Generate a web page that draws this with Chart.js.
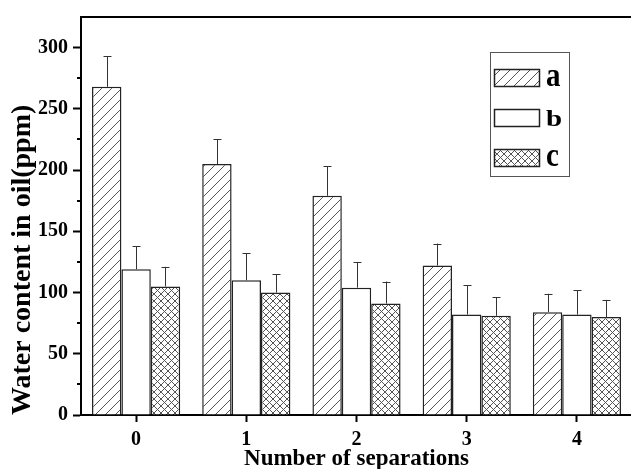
<!DOCTYPE html>
<html>
<head>
<meta charset="utf-8">
<script src="https://cdn.jsdelivr.net/npm/chart.js@4.4.0/dist/chart.umd.min.js"></script>
<style>
  html, body { margin: 0; padding: 0; background: #fff; overflow: hidden; }
  #wrap { width: 640px; height: 469px; }
</style>
</head>
<body>
<div id="wrap"><canvas id="chart" width="640" height="469"></canvas></div>
<script>
const categories = ['0', '1', '2', '3', '4'];
const seriesNames = ['a', 'b', 'c'];
const valuesA = [268, 205, 179, 122, 84];
const valuesB = [119, 110, 104, 82, 82];
const valuesC = [105, 100, 91, 81, 80];
const errorsA = [25, 20, 24, 18, 15];
const errorsB = [19, 22, 21, 24, 20];
const errorsC = [16, 15, 18, 15, 14];
const yTicks = [0, 50, 100, 150, 200, 250, 300];
const yMinorTicks = [25, 75, 125, 175, 225, 275];

const FONT = '"Liberation Serif", "Times New Roman", serif';
const ctx = document.getElementById('chart').getContext('2d');

// fill patterns
function makeHatch() {
    const c = document.createElement('canvas');
    c.width = 10; c.height = 10;
    const g = c.getContext('2d');
    g.fillStyle = '#fff';
    g.fillRect(0, 0, 10, 10);
    g.strokeStyle = '#555';
    g.lineWidth = 1;
    g.beginPath();
    g.moveTo(0, 10); g.lineTo(10, 0);
    g.moveTo(-5, 5); g.lineTo(5, -5);
    g.moveTo(5, 15); g.lineTo(15, 5);
    g.stroke();
    return ctx.createPattern(c, 'repeat');
}

function makeCross() {
    const c = document.createElement('canvas');
    c.width = 7; c.height = 7;
    const g = c.getContext('2d');
    g.fillStyle = '#fff';
    g.fillRect(0, 0, 7, 7);
    g.strokeStyle = '#555';
    g.lineWidth = 1;
    g.beginPath();
    g.moveTo(0, 0); g.lineTo(7, 7);
    g.moveTo(0, 7); g.lineTo(7, 0);
    g.stroke();
    return ctx.createPattern(c, 'repeat');
}

const fills = [makeHatch(), '#fff', makeCross()];
const allValues = [valuesA, valuesB, valuesC];
const allErrors = [errorsA, errorsB, errorsC];

// error bars, minor ticks, top frame and legend
const extrasPlugin = {
    id: 'extras',
    afterDatasetsDraw(chart) {
        const c = chart.ctx;
        const y = chart.scales.y;
        const area = chart.chartArea;
        c.save();

        // error bars (upper only)
        c.strokeStyle = '#333';
        c.lineWidth = 1;
        allValues.forEach((vals, di) => {
            const meta = chart.getDatasetMeta(di);
            vals.forEach((v, i) => {
                const x = Math.round(meta.data[i].x) + 0.5;
                const yTop = y.getPixelForValue(v);
                const yErr = y.getPixelForValue(v + allErrors[di][i]);
                c.beginPath();
                c.moveTo(x, yTop);
                c.lineTo(x, yErr);
                c.moveTo(x - 4, Math.round(yErr) + 0.5);
                c.lineTo(x + 4, Math.round(yErr) + 0.5);
                c.stroke();
            });
        });

        // minor ticks on y axis
        c.strokeStyle = '#000';
        c.lineWidth = 2;
        yMinorTicks.forEach(v => {
            const py = Math.round(y.getPixelForValue(v));
            c.beginPath();
            c.moveTo(area.left - 4, py);
            c.lineTo(area.left, py);
            c.stroke();
        });

        // top frame line
        c.beginPath();
        c.moveTo(area.left - 1, area.top);
        c.lineTo(chart.width, area.top);
        c.stroke();

        // legend box
        const lx = 490, ly = 52, lw = 79, lh = 124;
        c.fillStyle = '#fff';
        c.fillRect(lx, ly, lw, lh);
        c.strokeStyle = '#555';
        c.lineWidth = 1;
        c.strokeRect(lx + 0.5, ly + 0.5, lw, lh);

        seriesNames.forEach((name, i) => {
            const sy = 69 + i * 40;
            c.fillStyle = fills[i];
            c.fillRect(494, sy, 45, 17);
            c.strokeStyle = '#222';
            c.lineWidth = 1.5;
            c.strokeRect(494.5, sy + 0.5, 45, 17);

            // legend letters, stretched to the same glyph height
            c.font = 'bold 29px ' + FONT;
            c.fillStyle = '#000';
            c.textBaseline = 'alphabetic';
            c.textAlign = 'left';
            const m = c.measureText(name);
            const h = m.actualBoundingBoxAscent + m.actualBoundingBoxDescent;
            const sc = 16.5 / h;
            c.save();
            c.translate(546, sy + 17);
            c.scale(1, sc);
            c.fillText(name, 0, 0);
            c.restore();
        });

        c.restore();
    }
};

new Chart(ctx, {
    type: 'bar',
    data: {
        labels: categories,
        datasets: seriesNames.map((name, i) => ({
            label: name,
            data: allValues[i],
            backgroundColor: fills[i],
            borderColor: '#222',
            borderWidth: 1.5,
            categoryPercentage: 0.8,
            barPercentage: 1.0
        }))
    },
    options: {
        responsive: false,
        animation: false,
        devicePixelRatio: 1,
        layout: { padding: { top: 12, right: 8, left: 0, bottom: 0 } },
        plugins: {
            legend: { display: false },
            tooltip: { enabled: false }
        },
        scales: {
            x: {
                grid: {
                    offset: false,
                    drawOnChartArea: false,
                    drawTicks: true,
                    tickLength: 7,
                    tickWidth: 2,
                    tickColor: '#000'
                },
                border: { display: true, color: '#000', width: 2 },
                ticks: {
                    color: '#000',
                    padding: 6,
                    font: { family: FONT, size: 20, weight: 'bold' }
                },
                title: {
                    display: true,
                    text: 'Number of separations',
                    color: '#000',
                    padding: { top: 0, bottom: -4 },
                    font: { family: FONT, size: 23, weight: 'bold' }
                },
                afterFit(scale) { scale.height = 54; }
            },
            y: {
                min: 0,
                max: 325,
                grid: {
                    drawOnChartArea: false,
                    drawTicks: true,
                    tickLength: 8,
                    tickWidth: 2,
                    tickColor: '#000'
                },
                border: { display: true, color: '#000', width: 2 },
                ticks: {
                    stepSize: 50,
                    color: '#000',
                    padding: 5,
                    font: { family: FONT, size: 20, weight: 'bold' }
                },
                afterBuildTicks(scale) {
                    scale.ticks = yTicks.map(v => ({ value: v }));
                },
                title: {
                    display: true,
                    text: 'Water content in oil(ppm)',
                    align: 'start',
                    color: '#000',
                    padding: { top: 6, bottom: 0 },
                    font: { family: FONT, size: 28, weight: 'bold' }
                },
                afterFit(scale) { scale.width = 81; }
            }
        }
    },
    plugins: [extrasPlugin]
});
</script>
</body>
</html>
